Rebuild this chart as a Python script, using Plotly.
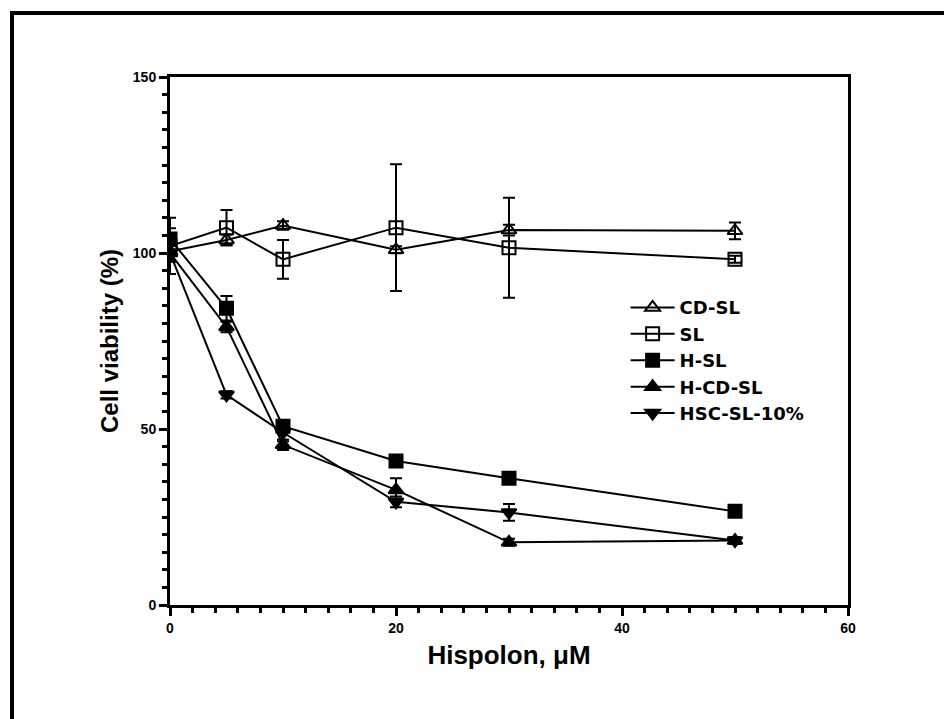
import plotly.graph_objects as go

conc = [0, 5, 10, 20, 30, 50]

cd_sl = [100.5, 103.7, 107.8, 100.9, 106.5, 106.3]
cd_sl_err = [3, 1.5, 1.2, 1.0, 1.5, 2.4]

sl = [102, 107.2, 98.2, 107.2, 101.5, 98.2]
sl_err = [8, 5, 5.5, 18, 14.2, 1.0]

h_sl = [104, 84.3, 50.8, 40.9, 36.0, 26.6]
h_sl_err = [3, 3.5, 1.5, 1.0, 1.0, 1.0]

h_cd_sl = [100, 79.0, 45.5, 32.7, 17.8, 18.3]
h_cd_sl_err = [2, 1.5, 1.5, 3.3, 1.0, 1.0]

hsc_sl = [100, 59.7, 49.0, 29.3, 26.3, 18.3]
hsc_sl_err = [2, 1.0, 2.5, 1.5, 2.4, 1.0]

series = [
    ("CD-SL", cd_sl, cd_sl_err, "triangle-up-open"),
    ("SL", sl, sl_err, "square-open"),
    ("H-SL", h_sl, h_sl_err, "square"),
    ("H-CD-SL", h_cd_sl, h_cd_sl_err, "triangle-up"),
    ("HSC-SL-10%", hsc_sl, hsc_sl_err, "triangle-down"),
]

FONT = "Arial, Liberation Sans, sans-serif"

fig = go.Figure()
for name, vals, errs, sym in series:
    fig.add_trace(go.Scatter(
        x=conc, y=vals, name=name, mode="lines+markers",
        line=dict(color="black", width=2),
        marker=dict(symbol=sym, size=13, color="black",
                    line=dict(color="black", width=2)),
        error_y=dict(type="data", array=errs, visible=True,
                     color="black", thickness=2, width=6),
    ))

axis_common = dict(
    showline=True, linecolor="black", linewidth=3, mirror=True,
    ticks="outside", tickcolor="black", tickwidth=3, ticklen=8,
    showgrid=False, zeroline=False,
    tickfont=dict(family="Liberation Sans Narrow, Arial Narrow, Arial", size=14,
                  color="black", weight="bold"),
)

fig.update_xaxes(
    range=[0, 60], tickvals=[0, 20, 40, 60], **axis_common,
    minor=dict(ticks="outside", dtick=2, tick0=0, ticklen=5, tickwidth=3,
               tickcolor="black", showgrid=False),
    title=dict(text="Hispolon, μM", standoff=12,
               font=dict(family=FONT, size=26, color="black", weight="bold")),
)
fig.update_yaxes(
    range=[0, 150], tickvals=[0, 50, 100, 150], **axis_common,
    minor=dict(ticks="outside", dtick=5, tick0=0, ticklen=5, tickwidth=3,
               tickcolor="black", showgrid=False),
    title=dict(text="Cell viability (%)", standoff=8,
               font=dict(family=FONT, size=24, color="black", weight="bold")),
)

fig.update_layout(
    width=952, height=719,
    margin=dict(l=162, r=112, t=69, b=122),
    paper_bgcolor="white", plot_bgcolor="white",
    showlegend=True,
    legend=dict(x=0.672, y=0.598, xanchor="left", yanchor="top",
                bgcolor="rgba(0,0,0,0)", itemwidth=44, tracegroupgap=0,
                font=dict(family="DejaVu Sans, Arial", size=18, color="black",
                          weight="bold")),
    shapes=[dict(type="path", xref="paper", yref="paper",
                 path="M -0.233 -0.4 L -0.233 1.1212 L 1.3 1.1212",
                 line=dict(color="black", width=4))],
)

fig.write_html("out.html")
